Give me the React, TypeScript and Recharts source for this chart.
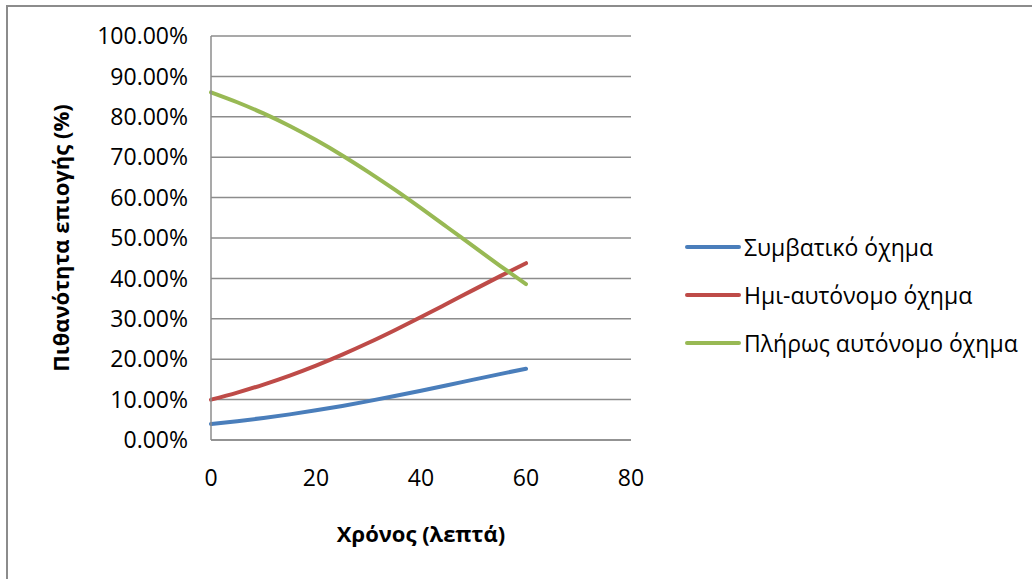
import { LineChart, Line, XAxis, YAxis, CartesianGrid, Legend, Label } from "recharts"

const minutes = [0, 5, 10, 15, 20, 25, 30, 35, 40, 45, 50, 55, 60]
const conventional = [3.96, 4.66, 5.45, 6.34, 7.34, 8.43, 9.62, 10.88, 12.2, 13.56, 14.94, 16.31, 17.65]
const semiAutonomous = [9.98, 11.73, 13.72, 15.94, 18.42, 21.13, 24.06, 27.18, 30.43, 33.78, 37.16, 40.5, 43.76]
const fullyAutonomous = [86.06, 83.6, 80.83, 77.72, 74.24, 70.44, 66.32, 61.95, 57.37, 52.66, 47.9, 43.18, 38.58]

const xTicks = [0, 20, 40, 60, 80]
const yTicks = [0, 10, 20, 30, 40, 50, 60, 70, 80, 90, 100]

const series = [
  { key: "conv", name: "Συμβατικό όχημα", color: "#4A7EBB", values: conventional },
  { key: "semi", name: "Ημι-αυτόνομο όχημα", color: "#BE4B48", values: semiAutonomous },
  { key: "full", name: "Πλήρως αυτόνομο όχημα", color: "#98B954", values: fullyAutonomous },
]

const data = minutes.map((t, i) => ({
  t,
  conv: conventional[i],
  semi: semiAutonomous[i],
  full: fullyAutonomous[i],
}))

const font = "'Open Sans', sans-serif"

// legend box width gets added to the right offset by recharts, so the margin below accounts for it
const legendWidth = 345

function LegendBox() {
  return (
    <div style={{ fontFamily: font, fontSize: 23, color: "#000", whiteSpace: "nowrap" }}>
      {series.map((s) => (
        <div key={s.key} style={{ display: "flex", alignItems: "center", height: 48 }}>
          <div style={{ width: 56, height: 4, background: s.color, borderRadius: 2, marginRight: 3, flexShrink: 0 }} />
          <span>{s.name}</span>
        </div>
      ))}
    </div>
  )
}

export default function App() {
  return (
    <div style={{ position: "absolute", left: 0, top: 0, width: 1032, height: 579, overflow: "hidden", background: "#fff" }}>
      <div
        style={{
          position: "absolute",
          left: 6,
          top: 5,
          width: 1100,
          height: 700,
          border: "2px solid #8c8c8c",
        }}
      />
      <div style={{ position: "absolute", left: 0, top: 0 }}>
        <LineChart
          width={1032}
          height={579}
          data={data}
          margin={{ top: 36, right: 401 - legendWidth, bottom: 79, left: 111 }}
        >
          <CartesianGrid vertical={false} stroke="#8c8c8c" strokeWidth={1.5} />
          <XAxis
            dataKey="t"
            type="number"
            domain={[0, 80]}
            ticks={xTicks}
            height={60}
            tickLine={false}
            tickSize={0}
            tickMargin={30}
            stroke="#8c8c8c"
            strokeWidth={1.5}
            tick={{ fill: "#000", fontSize: 23, fontFamily: font }}
          >
            <Label
              value="Χρόνος (λεπτά)"
              position="bottom"
              offset={26}
              style={{ fontFamily: font, fontSize: 22, fontWeight: 700, fill: "#000" }}
            />
          </XAxis>
          <YAxis
            type="number"
            domain={[0, 100]}
            ticks={yTicks}
            width={100}
            tickLine={false}
            tickSize={0}
            tickMargin={23}
            stroke="#8c8c8c"
            strokeWidth={1.5}
            interval={0}
            tickFormatter={(v: number) => v.toFixed(2) + "%"}
            tick={{ fill: "#000", fontSize: 23, fontFamily: font }}
          >
            <Label
              value="Πιθανότητα επιογής (%)"
              angle={-90}
              position="insideLeft"
              offset={-50}
              style={{ fontFamily: font, fontSize: 22, fontWeight: 700, fill: "#000", textAnchor: "middle" }}
            />
          </YAxis>
          <Legend
            layout="horizontal"
            verticalAlign="middle"
            align="right"
            content={<LegendBox />}
            wrapperStyle={{ position: "absolute", left: 685, top: 223, width: legendWidth }}
          />
          {series.map((s) => (
            <Line
              key={s.key}
              dataKey={s.key}
              name={s.name}
              type="monotone"
              stroke={s.color}
              strokeWidth={4}
              dot={false}
              strokeLinecap="round"
              isAnimationActive={false}
            />
          ))}
        </LineChart>
      </div>
    </div>
  )
}
